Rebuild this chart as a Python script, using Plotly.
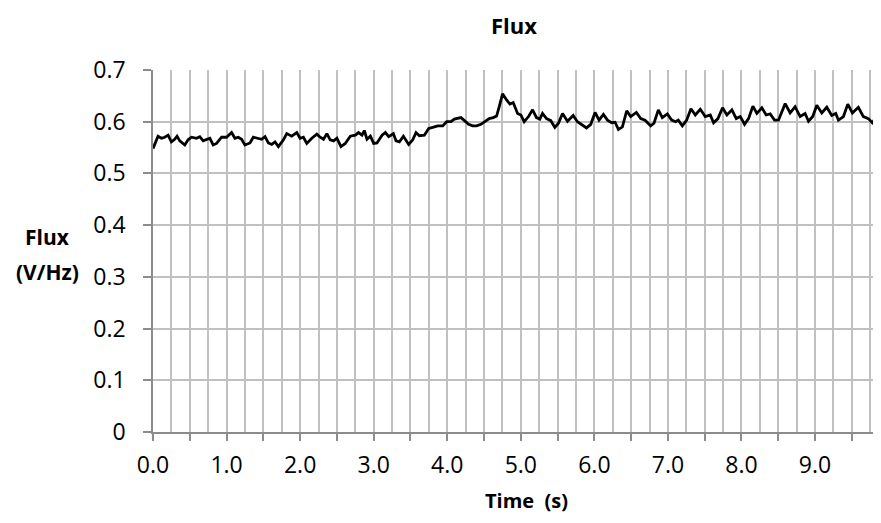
import plotly.graph_objects as go

# tiempo (s) y flujo (V/Hz)
time_s = [
    0.000, 0.068, 0.114, 0.159, 0.205, 0.250, 0.295, 0.327, 0.364, 0.432,
    0.477, 0.523, 0.591, 0.636, 0.682, 0.727, 0.773, 0.818, 0.864, 0.932,
    1.000, 1.068, 1.114, 1.159, 1.205, 1.250, 1.318, 1.364, 1.432, 1.477,
    1.523, 1.568, 1.614, 1.659, 1.705, 1.773, 1.818, 1.886, 1.955, 2.000,
    2.045, 2.091, 2.159, 2.227, 2.273, 2.318, 2.364, 2.409, 2.455, 2.500,
    2.555, 2.614, 2.682, 2.750, 2.795, 2.841, 2.873, 2.909, 2.955, 3.000,
    3.045, 3.114, 3.159, 3.205, 3.268, 3.304, 3.350, 3.404, 3.476, 3.531,
    3.576, 3.621, 3.689, 3.748, 3.802, 3.870, 3.938, 3.992, 4.051, 4.096,
    4.187, 4.232, 4.291, 4.345, 4.399, 4.458, 4.526, 4.571, 4.626, 4.671,
    4.707, 4.752, 4.807, 4.852, 4.897, 4.956, 5.001, 5.046, 5.105, 5.160,
    5.214, 5.259, 5.295, 5.350, 5.408, 5.463, 5.512, 5.567, 5.635, 5.712,
    5.770, 5.825, 5.893, 5.951, 6.010, 6.064, 6.123, 6.178, 6.236, 6.282,
    6.327, 6.381, 6.440, 6.494, 6.571, 6.630, 6.689, 6.766, 6.811, 6.870,
    6.924, 6.992, 7.051, 7.106, 7.141, 7.196, 7.255, 7.313, 7.372, 7.440,
    7.508, 7.576, 7.621, 7.680, 7.743, 7.802, 7.870, 7.929, 7.983, 8.042,
    8.096, 8.155, 8.209, 8.277, 8.336, 8.390, 8.449, 8.503, 8.594, 8.662,
    8.729, 8.797, 8.865, 8.911, 8.969, 9.024, 9.092, 9.160, 9.227, 9.282,
    9.318, 9.386, 9.445, 9.508, 9.589, 9.657, 9.725, 9.779, 9.838, 9.874,
    9.900,
]
flux = [
    0.548, 0.572, 0.568, 0.570, 0.574, 0.561, 0.566, 0.572, 0.563, 0.555,
    0.565, 0.570, 0.568, 0.571, 0.563, 0.565, 0.568, 0.555, 0.558, 0.570,
    0.570, 0.579, 0.568, 0.570, 0.566, 0.555, 0.559, 0.570, 0.568, 0.566,
    0.571, 0.559, 0.556, 0.561, 0.552, 0.565, 0.577, 0.572, 0.579, 0.568,
    0.570, 0.558, 0.568, 0.576, 0.570, 0.566, 0.577, 0.565, 0.563, 0.568,
    0.552, 0.558, 0.572, 0.574, 0.579, 0.574, 0.583, 0.566, 0.572, 0.558,
    0.559, 0.574, 0.579, 0.571, 0.577, 0.563, 0.561, 0.572, 0.556, 0.565,
    0.579, 0.573, 0.574, 0.587, 0.589, 0.592, 0.592, 0.600, 0.600, 0.605,
    0.608, 0.603, 0.595, 0.592, 0.592, 0.595, 0.601, 0.606, 0.608, 0.611,
    0.629, 0.654, 0.642, 0.634, 0.637, 0.616, 0.613, 0.600, 0.610, 0.623,
    0.608, 0.605, 0.616, 0.606, 0.602, 0.589, 0.597, 0.616, 0.601, 0.612,
    0.600, 0.594, 0.588, 0.595, 0.618, 0.603, 0.614, 0.603, 0.598, 0.599,
    0.585, 0.590, 0.621, 0.610, 0.618, 0.606, 0.603, 0.592, 0.597, 0.623,
    0.608, 0.615, 0.603, 0.600, 0.603, 0.592, 0.603, 0.625, 0.613, 0.624,
    0.610, 0.613, 0.598, 0.606, 0.627, 0.613, 0.623, 0.606, 0.610, 0.595,
    0.606, 0.630, 0.616, 0.627, 0.613, 0.615, 0.603, 0.603, 0.635, 0.617,
    0.629, 0.610, 0.616, 0.601, 0.610, 0.632, 0.617, 0.628, 0.612, 0.616,
    0.603, 0.610, 0.634, 0.617, 0.628, 0.610, 0.606, 0.598, 0.610, 0.624,
    0.628,
]

# marcas del eje x (cada 0.5 s, etiqueta solo en los enteros)
x_ticks = [i * 0.5 for i in range(20)]
x_labels = [f"{v:.1f}" if v == int(v) else "" for v in x_ticks]

FONT = "Open Sans"
grid_color = "#c0c0c0"
axis_color = "#8c8c8c"

fig = go.Figure(go.Scatter(
    x=time_s, y=flux, mode="lines",
    line=dict(color="black", width=2.8),
    showlegend=False,
))

# la pagina tiene 8 px de margen en el body: la figura se ajusta a eso
fig.update_layout(
    width=865, height=507,
    paper_bgcolor="white", plot_bgcolor="white",
    margin=dict(l=145, r=0, t=62, b=83, autoexpand=False),
    font=dict(family=FONT, size=23, color="black"),
)

fig.update_xaxes(
    range=[0, 9.788],
    tickmode="array", tickvals=x_ticks, ticktext=x_labels,
    ticks="outside", ticklen=7, tickcolor=axis_color, tickwidth=1.5,
    ticklabelstandoff=5,
    showgrid=True, gridcolor=grid_color, gridwidth=1.8,
    minor=dict(tickmode="linear", tick0=0, dtick=0.25, showgrid=True,
               gridcolor=grid_color, gridwidth=1.8, ticks=""),
    showline=True, linecolor=axis_color, linewidth=1.6,
    zeroline=False,
)

fig.update_yaxes(
    range=[0, 0.7], dtick=0.1,
    ticks="outside", ticklen=8, tickcolor=axis_color, tickwidth=1.5,
    ticklabelstandoff=13,
    showgrid=True, gridcolor=grid_color, gridwidth=1.8,
    showline=True, linecolor=axis_color, linewidth=1.6,
    zeroline=False,
)

# titulo y titulos de los ejes como anotaciones
titles = [
    ("<b>Flux</b>", 0.502, 1.124, 22),
    ("<b>Time\u00a0 (s)</b>", 0.519, -0.188, 20),
    ("<b>Flux</b>", -0.147, 0.539, 21),
    ("<b>(V/Hz)</b>", -0.147, 0.442, 21),
]
for text, tx, ty, size in titles:
    fig.add_annotation(
        text=text, xref="paper", yref="paper", x=tx, y=ty,
        xanchor="center", yanchor="middle", showarrow=False,
        font=dict(size=size),
    )

fig.write_html("out.html")
